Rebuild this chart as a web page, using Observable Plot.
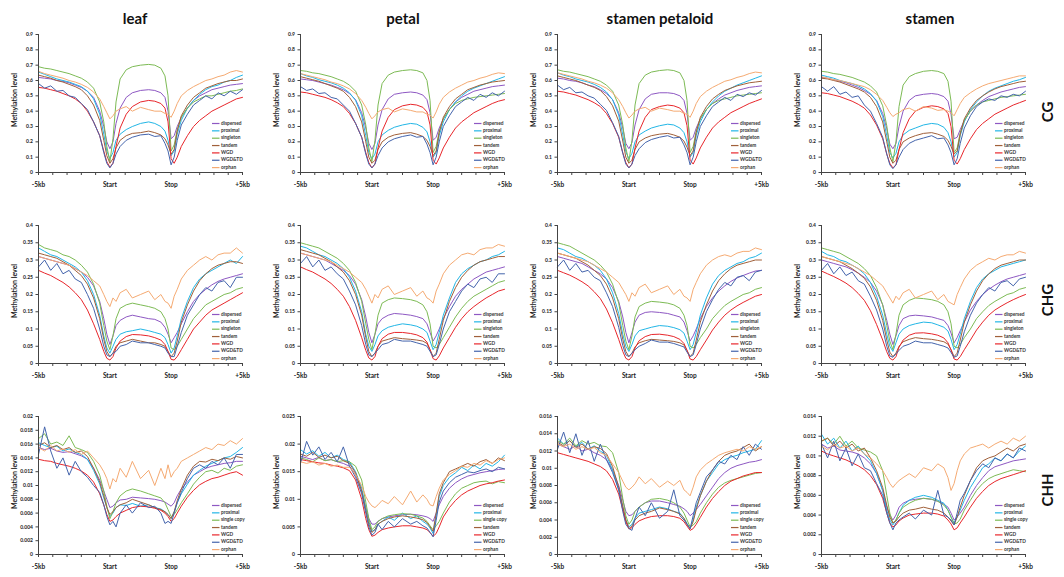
<!DOCTYPE html>
<html>
<head>
<meta charset="utf-8">
<script src="https://cdn.jsdelivr.net/npm/d3@7"></script>
<script src="https://cdn.jsdelivr.net/npm/@observablehq/plot@0.6"></script>
<style>
  html, body { margin: 0; padding: 0; background: #fff; }
  #chart { position: relative; width: 1064px; height: 577px; overflow: hidden; font-family: Lato, "Open Sans", sans-serif; }
  .ttl { position: absolute; font-weight: bold; font-size: 15px; color: #111; transform: translate(-50%, -50%); white-space: nowrap; }
  .row { position: absolute; font-weight: bold; font-size: 15px; color: #111; transform: translate(-50%, -50%) rotate(-90deg); white-space: nowrap; }
</style>
</head>
<body>
<div id="chart"></div>
<script>
// ---------- categories & labels ----------
const tissues = ["leaf", "petal", "stamen petaloid", "stamen"];
const contexts = ["CG", "CHG", "CHH"];
const seriesCG = ["dispersed", "proximal", "singleton", "tandem", "WGD", "WGD&TD", "orphan"];
const seriesCHH = ["dispersed", "proximal", "single copy", "tandem", "WGD", "WGD&TD", "orphan"];
const seriesColors = ["#8E58C3", "#22B6E6", "#7DBB55", "#A0603A", "#E8262B", "#4464AC", "#F5AA72"];
const xTickAt = [0, 35, 65, 100];
const xTickLabels = ["-5kb", "Start", "Stop", "+5kb"];
const xTickMarks = [0, 7, 14, 21, 28, 35, 42.5, 50, 57.5, 65, 72, 79, 86, 93, 100];
const yTicksCG = [0, 0.1, 0.2, 0.3, 0.4, 0.5, 0.6, 0.7, 0.8, 0.9];
const yTicksCHG = [0, 0.05, 0.1, 0.15, 0.2, 0.25, 0.3, 0.35, 0.4];
const yTicksCHH_leaf = [0, 0.002, 0.004, 0.006, 0.008, 0.01, 0.012, 0.014, 0.016, 0.018, 0.02];
const yTicksCHH_petal = [0, 0.005, 0.01, 0.015, 0.02, 0.025];
const yTicksCHH_petaloid = [0, 0.002, 0.004, 0.006, 0.008, 0.01, 0.012, 0.014, 0.016];
const yTicksCHH_stamen = [0, 0.002, 0.004, 0.006, 0.008, 0.01, 0.012, 0.014];

// relative position along -5kb .. Start .. Stop .. +5kb (0..100)
const xPos = [0,3,6,9,12,15,18,21,24,27,30,32,33.5,35,36.5,38,40,43,46,50,54,57,60,62,63.5,65,66.5,68,70,73,76,79,82,85,88,91,94,97,100];

// ---------- series values (order: dispersed, proximal, singleton, tandem, WGD, WGD&TD, orphan) ----------
const CG_leaf = [
 [0.62,0.615,0.61,0.60,0.595,0.585,0.57,0.555,0.53,0.49,0.40,0.30,0.20,0.155,0.20,0.32,0.42,0.49,0.52,0.535,0.54,0.535,0.52,0.49,0.40,0.22,0.24,0.30,0.36,0.42,0.47,0.50,0.52,0.54,0.55,0.56,0.57,0.575,0.58],
 [0.655,0.64,0.625,0.61,0.60,0.59,0.575,0.56,0.53,0.48,0.38,0.25,0.14,0.09,0.13,0.21,0.25,0.28,0.30,0.32,0.33,0.32,0.30,0.27,0.21,0.11,0.14,0.25,0.34,0.42,0.47,0.51,0.54,0.56,0.57,0.59,0.60,0.62,0.635],
 [0.69,0.68,0.675,0.665,0.655,0.645,0.63,0.615,0.59,0.55,0.46,0.33,0.17,0.07,0.22,0.46,0.61,0.67,0.69,0.70,0.705,0.70,0.68,0.63,0.50,0.14,0.18,0.28,0.36,0.42,0.46,0.48,0.50,0.50,0.51,0.52,0.53,0.535,0.545],
 [0.635,0.625,0.615,0.60,0.59,0.575,0.56,0.54,0.50,0.44,0.34,0.21,0.11,0.06,0.09,0.16,0.21,0.24,0.255,0.26,0.27,0.26,0.245,0.22,0.18,0.12,0.15,0.27,0.37,0.44,0.49,0.52,0.55,0.565,0.58,0.59,0.60,0.60,0.61],
 [0.555,0.55,0.54,0.53,0.515,0.50,0.48,0.45,0.40,0.33,0.24,0.14,0.07,0.035,0.06,0.17,0.29,0.38,0.43,0.46,0.47,0.465,0.45,0.42,0.33,0.09,0.06,0.10,0.17,0.24,0.30,0.34,0.37,0.40,0.42,0.44,0.46,0.48,0.49],
 [0.58,0.55,0.565,0.53,0.535,0.50,0.49,0.45,0.41,0.33,0.24,0.13,0.06,0.03,0.06,0.12,0.17,0.21,0.23,0.245,0.25,0.235,0.24,0.19,0.14,0.05,0.10,0.21,0.31,0.38,0.44,0.47,0.50,0.48,0.52,0.50,0.53,0.51,0.54],
 [0.66,0.645,0.635,0.625,0.615,0.60,0.59,0.575,0.555,0.525,0.48,0.43,0.39,0.35,0.37,0.40,0.415,0.43,0.40,0.425,0.41,0.40,0.40,0.385,0.38,0.36,0.40,0.45,0.50,0.535,0.56,0.58,0.60,0.61,0.625,0.635,0.655,0.665,0.655]
];
const CG_petal = [
 [0.61,0.605,0.60,0.59,0.58,0.57,0.555,0.54,0.515,0.475,0.39,0.29,0.19,0.15,0.19,0.31,0.41,0.48,0.51,0.52,0.525,0.52,0.505,0.475,0.39,0.21,0.23,0.29,0.35,0.41,0.46,0.49,0.51,0.53,0.54,0.55,0.56,0.565,0.57],
 [0.645,0.63,0.62,0.605,0.595,0.585,0.57,0.55,0.52,0.47,0.37,0.24,0.13,0.09,0.12,0.20,0.245,0.275,0.295,0.31,0.32,0.315,0.295,0.265,0.20,0.10,0.13,0.24,0.33,0.41,0.46,0.50,0.53,0.55,0.565,0.58,0.595,0.61,0.625],
 [0.665,0.66,0.65,0.645,0.635,0.625,0.61,0.595,0.57,0.53,0.44,0.31,0.16,0.07,0.21,0.44,0.58,0.635,0.655,0.665,0.67,0.665,0.65,0.60,0.47,0.13,0.17,0.27,0.35,0.41,0.45,0.47,0.48,0.49,0.495,0.50,0.505,0.51,0.515],
 [0.625,0.615,0.605,0.595,0.58,0.565,0.55,0.53,0.49,0.43,0.33,0.20,0.10,0.06,0.08,0.15,0.20,0.23,0.245,0.255,0.26,0.25,0.235,0.21,0.17,0.11,0.14,0.26,0.36,0.43,0.48,0.51,0.54,0.555,0.57,0.58,0.59,0.595,0.60],
 [0.525,0.52,0.51,0.50,0.49,0.475,0.455,0.43,0.385,0.32,0.23,0.13,0.065,0.03,0.055,0.16,0.27,0.36,0.41,0.435,0.445,0.44,0.425,0.395,0.31,0.08,0.055,0.095,0.16,0.23,0.29,0.33,0.36,0.39,0.41,0.43,0.45,0.465,0.475],
 [0.56,0.535,0.545,0.515,0.52,0.49,0.48,0.44,0.40,0.32,0.23,0.12,0.055,0.03,0.055,0.11,0.16,0.20,0.22,0.235,0.245,0.23,0.235,0.185,0.13,0.05,0.10,0.20,0.30,0.37,0.43,0.46,0.49,0.47,0.51,0.49,0.52,0.50,0.53],
 [0.645,0.635,0.625,0.615,0.605,0.59,0.58,0.565,0.545,0.515,0.47,0.425,0.385,0.35,0.37,0.395,0.41,0.42,0.395,0.415,0.405,0.395,0.395,0.38,0.375,0.355,0.395,0.445,0.49,0.525,0.55,0.57,0.59,0.60,0.615,0.625,0.64,0.65,0.645]
];
const CG_petaloid = [
 [0.615,0.61,0.60,0.595,0.585,0.57,0.56,0.54,0.515,0.475,0.39,0.29,0.19,0.155,0.195,0.31,0.41,0.48,0.51,0.52,0.52,0.515,0.50,0.47,0.385,0.21,0.23,0.29,0.35,0.41,0.45,0.48,0.505,0.52,0.535,0.545,0.555,0.56,0.565],
 [0.65,0.635,0.625,0.61,0.60,0.59,0.575,0.555,0.525,0.475,0.375,0.245,0.135,0.09,0.125,0.20,0.245,0.27,0.29,0.305,0.315,0.31,0.29,0.26,0.20,0.10,0.13,0.24,0.33,0.41,0.46,0.50,0.53,0.55,0.57,0.585,0.60,0.615,0.63],
 [0.67,0.66,0.655,0.645,0.635,0.625,0.61,0.595,0.57,0.53,0.44,0.31,0.16,0.07,0.21,0.44,0.58,0.635,0.655,0.665,0.67,0.665,0.65,0.60,0.47,0.13,0.17,0.27,0.35,0.41,0.45,0.47,0.48,0.49,0.50,0.505,0.51,0.515,0.52],
 [0.63,0.62,0.61,0.60,0.585,0.57,0.555,0.535,0.495,0.435,0.335,0.205,0.10,0.06,0.08,0.15,0.20,0.225,0.24,0.25,0.255,0.245,0.23,0.205,0.165,0.11,0.14,0.26,0.36,0.43,0.48,0.51,0.535,0.55,0.565,0.575,0.585,0.59,0.595],
 [0.53,0.525,0.515,0.505,0.49,0.475,0.455,0.43,0.385,0.32,0.23,0.13,0.065,0.03,0.055,0.16,0.27,0.36,0.41,0.43,0.44,0.435,0.42,0.39,0.305,0.08,0.055,0.095,0.16,0.23,0.29,0.33,0.36,0.39,0.41,0.43,0.45,0.465,0.48],
 [0.57,0.54,0.555,0.52,0.525,0.50,0.485,0.445,0.405,0.325,0.235,0.125,0.055,0.03,0.055,0.11,0.155,0.195,0.215,0.23,0.24,0.225,0.23,0.18,0.13,0.05,0.10,0.20,0.30,0.37,0.43,0.46,0.49,0.47,0.51,0.495,0.52,0.505,0.535],
 [0.65,0.64,0.63,0.62,0.61,0.595,0.585,0.57,0.55,0.52,0.475,0.43,0.39,0.355,0.375,0.40,0.415,0.425,0.40,0.42,0.41,0.40,0.40,0.385,0.38,0.36,0.40,0.45,0.495,0.53,0.555,0.575,0.595,0.605,0.62,0.63,0.645,0.655,0.65]
];
const CG_stamen = [
 [0.62,0.615,0.605,0.595,0.585,0.57,0.555,0.535,0.51,0.47,0.385,0.285,0.185,0.155,0.19,0.30,0.40,0.47,0.50,0.51,0.515,0.51,0.495,0.465,0.38,0.22,0.23,0.28,0.34,0.40,0.44,0.47,0.495,0.51,0.525,0.535,0.545,0.555,0.56],
 [0.635,0.625,0.615,0.60,0.59,0.58,0.565,0.545,0.515,0.465,0.365,0.24,0.13,0.095,0.125,0.20,0.245,0.275,0.29,0.31,0.32,0.315,0.295,0.26,0.20,0.10,0.13,0.24,0.33,0.41,0.46,0.50,0.53,0.55,0.565,0.58,0.595,0.605,0.62],
 [0.66,0.655,0.645,0.64,0.63,0.62,0.605,0.59,0.565,0.525,0.435,0.305,0.16,0.07,0.20,0.43,0.57,0.625,0.645,0.66,0.665,0.66,0.645,0.595,0.465,0.13,0.16,0.26,0.34,0.40,0.44,0.46,0.47,0.48,0.49,0.495,0.50,0.505,0.51],
 [0.615,0.61,0.60,0.59,0.575,0.56,0.545,0.525,0.49,0.43,0.33,0.20,0.10,0.06,0.08,0.15,0.20,0.225,0.24,0.255,0.26,0.25,0.235,0.21,0.17,0.12,0.14,0.25,0.35,0.42,0.47,0.50,0.525,0.545,0.56,0.57,0.58,0.59,0.595],
 [0.52,0.515,0.505,0.495,0.48,0.465,0.445,0.42,0.375,0.31,0.22,0.12,0.06,0.03,0.05,0.15,0.26,0.35,0.40,0.425,0.435,0.43,0.415,0.385,0.30,0.08,0.055,0.09,0.15,0.22,0.28,0.32,0.35,0.38,0.40,0.42,0.44,0.455,0.47],
 [0.56,0.53,0.56,0.51,0.525,0.49,0.50,0.44,0.40,0.32,0.23,0.12,0.05,0.025,0.05,0.10,0.15,0.19,0.21,0.225,0.24,0.22,0.225,0.18,0.13,0.05,0.09,0.19,0.29,0.37,0.43,0.46,0.48,0.47,0.50,0.49,0.51,0.50,0.53],
 [0.625,0.615,0.605,0.60,0.59,0.58,0.57,0.56,0.54,0.51,0.47,0.425,0.39,0.365,0.38,0.39,0.41,0.42,0.40,0.43,0.42,0.405,0.41,0.40,0.39,0.37,0.41,0.45,0.49,0.52,0.545,0.565,0.58,0.59,0.60,0.61,0.62,0.63,0.63]
];
const CHG_leaf = [
 [0.31,0.305,0.30,0.295,0.29,0.285,0.275,0.265,0.25,0.225,0.18,0.13,0.085,0.055,0.08,0.11,0.125,0.135,0.14,0.135,0.13,0.128,0.12,0.105,0.085,0.06,0.075,0.09,0.115,0.15,0.18,0.20,0.215,0.228,0.238,0.245,0.25,0.255,0.26],
 [0.335,0.325,0.315,0.31,0.30,0.29,0.28,0.265,0.24,0.20,0.14,0.08,0.045,0.03,0.05,0.07,0.085,0.092,0.095,0.10,0.095,0.09,0.085,0.075,0.055,0.03,0.045,0.08,0.13,0.18,0.22,0.245,0.26,0.27,0.28,0.29,0.30,0.29,0.31],
 [0.345,0.335,0.33,0.325,0.315,0.31,0.30,0.285,0.265,0.23,0.175,0.11,0.065,0.04,0.08,0.13,0.16,0.17,0.175,0.17,0.165,0.16,0.15,0.13,0.10,0.045,0.04,0.05,0.07,0.10,0.13,0.15,0.17,0.18,0.19,0.20,0.205,0.215,0.22],
 [0.32,0.315,0.31,0.305,0.295,0.285,0.27,0.255,0.23,0.19,0.13,0.07,0.035,0.02,0.03,0.05,0.06,0.065,0.07,0.065,0.06,0.06,0.055,0.05,0.035,0.02,0.03,0.065,0.12,0.17,0.21,0.24,0.26,0.275,0.285,0.29,0.295,0.295,0.29],
 [0.27,0.262,0.255,0.245,0.235,0.222,0.205,0.185,0.155,0.115,0.07,0.035,0.015,0.01,0.02,0.045,0.065,0.078,0.084,0.083,0.08,0.075,0.068,0.055,0.035,0.012,0.01,0.02,0.04,0.07,0.10,0.12,0.14,0.155,0.165,0.175,0.185,0.195,0.205],
 [0.28,0.30,0.27,0.29,0.26,0.27,0.245,0.235,0.20,0.16,0.10,0.05,0.025,0.02,0.03,0.035,0.05,0.055,0.065,0.06,0.06,0.055,0.05,0.045,0.03,0.02,0.02,0.05,0.09,0.14,0.17,0.20,0.22,0.21,0.235,0.24,0.22,0.25,0.25],
 [0.31,0.305,0.30,0.295,0.29,0.285,0.275,0.265,0.255,0.24,0.225,0.20,0.18,0.165,0.19,0.18,0.205,0.215,0.19,0.20,0.21,0.185,0.20,0.18,0.175,0.16,0.195,0.215,0.245,0.27,0.285,0.30,0.31,0.30,0.315,0.32,0.32,0.335,0.32]
];
const CHG_petal = [
 [0.32,0.315,0.31,0.305,0.30,0.29,0.28,0.27,0.255,0.23,0.185,0.135,0.09,0.06,0.085,0.115,0.13,0.14,0.145,0.143,0.14,0.136,0.13,0.115,0.09,0.065,0.08,0.10,0.13,0.165,0.195,0.215,0.23,0.245,0.255,0.265,0.27,0.275,0.28],
 [0.34,0.335,0.325,0.315,0.31,0.30,0.29,0.275,0.25,0.21,0.15,0.085,0.05,0.035,0.055,0.08,0.095,0.105,0.11,0.115,0.112,0.108,0.10,0.09,0.065,0.04,0.055,0.09,0.14,0.19,0.235,0.26,0.275,0.285,0.295,0.30,0.31,0.315,0.325],
 [0.35,0.345,0.34,0.335,0.325,0.315,0.305,0.29,0.27,0.235,0.18,0.115,0.07,0.04,0.085,0.14,0.175,0.185,0.19,0.188,0.185,0.18,0.17,0.15,0.115,0.05,0.045,0.055,0.075,0.105,0.135,0.16,0.18,0.195,0.205,0.215,0.225,0.235,0.24],
 [0.33,0.325,0.32,0.315,0.305,0.295,0.28,0.265,0.24,0.20,0.14,0.075,0.035,0.02,0.03,0.05,0.065,0.07,0.075,0.072,0.07,0.068,0.065,0.058,0.04,0.02,0.03,0.07,0.125,0.18,0.22,0.25,0.27,0.285,0.295,0.30,0.305,0.31,0.31],
 [0.28,0.272,0.265,0.255,0.245,0.232,0.215,0.195,0.165,0.125,0.075,0.038,0.016,0.01,0.02,0.05,0.072,0.085,0.09,0.09,0.087,0.083,0.075,0.062,0.04,0.014,0.01,0.022,0.045,0.075,0.105,0.13,0.15,0.165,0.178,0.19,0.20,0.21,0.215],
 [0.29,0.31,0.28,0.30,0.27,0.28,0.26,0.245,0.21,0.17,0.11,0.055,0.025,0.02,0.03,0.04,0.055,0.06,0.07,0.065,0.065,0.06,0.055,0.05,0.035,0.02,0.025,0.055,0.10,0.15,0.18,0.21,0.23,0.22,0.245,0.25,0.235,0.26,0.26],
 [0.32,0.315,0.31,0.305,0.30,0.295,0.285,0.275,0.265,0.25,0.235,0.215,0.195,0.175,0.20,0.19,0.215,0.225,0.20,0.21,0.22,0.195,0.21,0.19,0.185,0.175,0.21,0.23,0.26,0.285,0.30,0.315,0.32,0.315,0.33,0.335,0.335,0.345,0.34]
];
const CHG_petaloid = [
 [0.31,0.305,0.30,0.295,0.29,0.28,0.27,0.26,0.245,0.22,0.18,0.135,0.09,0.06,0.09,0.12,0.14,0.148,0.15,0.148,0.145,0.14,0.135,0.12,0.095,0.065,0.08,0.10,0.13,0.165,0.19,0.21,0.225,0.238,0.248,0.255,0.262,0.268,0.27],
 [0.335,0.33,0.32,0.31,0.305,0.295,0.285,0.27,0.245,0.205,0.145,0.085,0.05,0.035,0.055,0.08,0.095,0.10,0.105,0.11,0.108,0.104,0.098,0.088,0.065,0.04,0.055,0.09,0.14,0.19,0.23,0.255,0.27,0.28,0.29,0.295,0.305,0.31,0.32],
 [0.35,0.345,0.34,0.33,0.32,0.31,0.30,0.285,0.265,0.23,0.175,0.11,0.065,0.04,0.08,0.135,0.165,0.175,0.18,0.178,0.175,0.17,0.16,0.14,0.11,0.05,0.045,0.055,0.075,0.10,0.13,0.15,0.168,0.18,0.19,0.20,0.205,0.215,0.22],
 [0.32,0.315,0.31,0.305,0.295,0.285,0.27,0.255,0.23,0.19,0.13,0.07,0.035,0.02,0.03,0.048,0.06,0.066,0.07,0.068,0.066,0.064,0.06,0.054,0.038,0.02,0.03,0.068,0.12,0.17,0.21,0.24,0.26,0.275,0.285,0.29,0.295,0.30,0.30],
 [0.27,0.263,0.256,0.247,0.237,0.225,0.208,0.188,0.158,0.118,0.07,0.035,0.015,0.01,0.02,0.045,0.066,0.078,0.084,0.085,0.082,0.078,0.07,0.058,0.038,0.013,0.01,0.02,0.04,0.068,0.097,0.12,0.14,0.155,0.167,0.177,0.186,0.195,0.20],
 [0.28,0.30,0.27,0.29,0.265,0.27,0.25,0.24,0.205,0.165,0.105,0.052,0.025,0.02,0.03,0.04,0.05,0.058,0.068,0.062,0.062,0.058,0.052,0.048,0.033,0.02,0.025,0.055,0.10,0.15,0.185,0.215,0.235,0.225,0.25,0.255,0.24,0.265,0.27],
 [0.32,0.315,0.31,0.305,0.30,0.295,0.285,0.275,0.265,0.25,0.235,0.215,0.20,0.18,0.205,0.195,0.22,0.23,0.205,0.215,0.225,0.20,0.215,0.195,0.19,0.18,0.215,0.235,0.26,0.285,0.30,0.31,0.315,0.31,0.32,0.325,0.325,0.335,0.33]
];
const CHG_stamen = [
 [0.30,0.295,0.29,0.285,0.28,0.272,0.262,0.25,0.235,0.21,0.17,0.125,0.085,0.055,0.08,0.11,0.13,0.138,0.14,0.138,0.135,0.13,0.125,0.11,0.088,0.06,0.075,0.095,0.12,0.155,0.18,0.20,0.215,0.227,0.237,0.245,0.25,0.255,0.26],
 [0.325,0.315,0.31,0.30,0.295,0.285,0.275,0.26,0.235,0.195,0.14,0.085,0.05,0.035,0.06,0.085,0.10,0.11,0.115,0.12,0.118,0.112,0.105,0.094,0.07,0.04,0.055,0.085,0.13,0.18,0.22,0.245,0.26,0.27,0.28,0.285,0.29,0.295,0.30],
 [0.335,0.33,0.325,0.32,0.31,0.30,0.29,0.275,0.255,0.22,0.17,0.11,0.065,0.04,0.085,0.14,0.17,0.183,0.19,0.188,0.185,0.18,0.17,0.15,0.115,0.05,0.045,0.055,0.075,0.10,0.13,0.15,0.168,0.18,0.19,0.20,0.205,0.215,0.22],
 [0.31,0.305,0.30,0.295,0.285,0.275,0.262,0.247,0.222,0.183,0.125,0.068,0.033,0.02,0.03,0.05,0.063,0.07,0.075,0.072,0.07,0.067,0.063,0.056,0.04,0.02,0.03,0.068,0.12,0.17,0.21,0.24,0.26,0.275,0.285,0.29,0.295,0.30,0.30],
 [0.268,0.26,0.252,0.243,0.233,0.22,0.203,0.183,0.153,0.113,0.068,0.034,0.015,0.01,0.02,0.047,0.068,0.082,0.088,0.089,0.086,0.082,0.074,0.06,0.039,0.013,0.01,0.02,0.04,0.068,0.097,0.12,0.14,0.155,0.166,0.176,0.185,0.193,0.20],
 [0.27,0.29,0.26,0.28,0.255,0.265,0.24,0.23,0.195,0.155,0.10,0.05,0.022,0.018,0.028,0.038,0.05,0.056,0.065,0.06,0.06,0.055,0.05,0.045,0.032,0.018,0.022,0.05,0.092,0.14,0.175,0.20,0.22,0.21,0.235,0.24,0.225,0.245,0.25],
 [0.31,0.305,0.30,0.295,0.29,0.285,0.275,0.265,0.255,0.24,0.225,0.205,0.19,0.175,0.195,0.185,0.205,0.215,0.19,0.20,0.21,0.185,0.20,0.18,0.175,0.17,0.20,0.22,0.245,0.27,0.285,0.295,0.305,0.30,0.31,0.315,0.315,0.325,0.32]
];
const CHH_leaf = [
 [0.0155,0.0152,0.0154,0.015,0.0148,0.0149,0.0146,0.0143,0.0138,0.0125,0.0108,0.0092,0.008,0.0068,0.007,0.0075,0.0079,0.008,0.0083,0.0082,0.0081,0.008,0.0078,0.0076,0.0073,0.007,0.0075,0.0085,0.0095,0.0105,0.0115,0.012,0.0125,0.0128,0.013,0.0132,0.0133,0.0135,0.0135],
 [0.0162,0.0158,0.0155,0.0157,0.015,0.0153,0.0148,0.0145,0.0138,0.0122,0.0102,0.0082,0.0068,0.0055,0.006,0.0068,0.0072,0.0071,0.0074,0.007,0.0072,0.0068,0.0066,0.0062,0.0058,0.0052,0.0062,0.0075,0.0088,0.0102,0.0115,0.0122,0.0128,0.0132,0.0136,0.014,0.0142,0.0148,0.0155],
 [0.0168,0.0175,0.016,0.0163,0.0158,0.0172,0.0155,0.0152,0.0148,0.0135,0.0115,0.0092,0.007,0.0052,0.0062,0.0075,0.0085,0.0092,0.0095,0.0092,0.0088,0.0085,0.0082,0.0075,0.0065,0.0055,0.0058,0.0065,0.0075,0.0088,0.0102,0.0112,0.012,0.0122,0.0118,0.0125,0.0122,0.0128,0.013],
 [0.0158,0.0162,0.0155,0.0158,0.0152,0.0155,0.0148,0.015,0.0142,0.0125,0.0105,0.0085,0.0068,0.0058,0.0062,0.0068,0.0072,0.0075,0.008,0.0076,0.0072,0.0068,0.0065,0.0062,0.0058,0.0052,0.0062,0.0078,0.0095,0.0115,0.0128,0.0135,0.0134,0.0138,0.0136,0.014,0.0138,0.0142,0.014],
 [0.0138,0.0136,0.0135,0.0132,0.013,0.0128,0.0125,0.0121,0.0115,0.0105,0.0088,0.0072,0.0058,0.0048,0.005,0.0055,0.006,0.0064,0.0068,0.007,0.0069,0.0067,0.0064,0.006,0.0055,0.0048,0.0052,0.006,0.007,0.0083,0.0093,0.0101,0.0106,0.011,0.0112,0.0115,0.0118,0.012,0.0115],
 [0.0145,0.0185,0.015,0.0125,0.014,0.0115,0.0135,0.012,0.0112,0.01,0.009,0.0072,0.0055,0.0043,0.0048,0.004,0.006,0.0072,0.006,0.0075,0.0068,0.007,0.006,0.0045,0.0048,0.0045,0.006,0.0075,0.009,0.011,0.0125,0.013,0.0125,0.0135,0.013,0.014,0.0125,0.0145,0.0145],
 [0.0155,0.015,0.0158,0.015,0.0153,0.0148,0.0152,0.0145,0.015,0.014,0.013,0.012,0.011,0.0095,0.011,0.0105,0.0125,0.0112,0.0135,0.011,0.0122,0.01,0.0125,0.011,0.013,0.0112,0.012,0.0125,0.0135,0.014,0.0145,0.015,0.0155,0.0152,0.016,0.0158,0.0165,0.016,0.0168]
];
const CHH_petal = [
 [0.0178,0.0175,0.0172,0.0176,0.017,0.0172,0.0168,0.0165,0.016,0.0145,0.0115,0.0085,0.0065,0.0055,0.0055,0.006,0.0065,0.0068,0.007,0.0072,0.0073,0.0072,0.007,0.0068,0.0065,0.006,0.0075,0.009,0.0105,0.012,0.013,0.0137,0.0142,0.0145,0.0148,0.015,0.0152,0.0154,0.0155],
 [0.019,0.0182,0.0188,0.0178,0.0185,0.0175,0.018,0.0172,0.0168,0.015,0.012,0.0085,0.006,0.0042,0.0045,0.0055,0.006,0.0068,0.0062,0.0075,0.0065,0.007,0.006,0.0055,0.0048,0.0038,0.007,0.0105,0.0125,0.014,0.0148,0.0158,0.0152,0.0162,0.0155,0.0165,0.016,0.0168,0.018],
 [0.0175,0.0172,0.0168,0.0175,0.017,0.0172,0.0168,0.017,0.0168,0.016,0.0135,0.0095,0.0065,0.0045,0.005,0.006,0.0065,0.007,0.0072,0.0074,0.0073,0.007,0.0066,0.006,0.0052,0.0045,0.0052,0.006,0.0075,0.0095,0.011,0.012,0.0125,0.013,0.0132,0.0133,0.0128,0.0132,0.013],
 [0.0182,0.0178,0.0185,0.0176,0.018,0.0175,0.0178,0.017,0.0165,0.0148,0.0115,0.008,0.0055,0.004,0.0045,0.0055,0.006,0.0065,0.0068,0.007,0.0068,0.0066,0.0063,0.0058,0.005,0.0042,0.0075,0.011,0.013,0.015,0.0155,0.016,0.0165,0.016,0.0168,0.0172,0.0165,0.0175,0.017],
 [0.0172,0.017,0.0168,0.0166,0.0165,0.0162,0.016,0.0157,0.0152,0.0135,0.01,0.0065,0.0045,0.0033,0.0035,0.004,0.0045,0.0048,0.005,0.0052,0.0052,0.005,0.0048,0.0045,0.004,0.0033,0.0038,0.005,0.0068,0.0085,0.0098,0.0108,0.0115,0.012,0.0125,0.0128,0.013,0.0133,0.0135],
 [0.0165,0.0205,0.018,0.0195,0.0172,0.0185,0.0168,0.0195,0.016,0.014,0.011,0.0075,0.005,0.0035,0.004,0.0055,0.0045,0.006,0.005,0.0065,0.0055,0.006,0.0052,0.0048,0.004,0.0032,0.0062,0.0095,0.0115,0.013,0.014,0.0145,0.015,0.0148,0.0152,0.0155,0.015,0.0158,0.0155],
 [0.0168,0.0165,0.0168,0.0162,0.0165,0.016,0.0162,0.0158,0.0158,0.0145,0.0125,0.0105,0.0095,0.0088,0.0085,0.009,0.0098,0.0092,0.0105,0.009,0.0115,0.0095,0.0108,0.01,0.009,0.0088,0.0105,0.012,0.0135,0.0145,0.0152,0.016,0.0158,0.0165,0.0162,0.017,0.0165,0.0172,0.0175]
];
const CHH_petaloid = [
 [0.0128,0.0125,0.0122,0.0126,0.012,0.0122,0.0118,0.0115,0.011,0.0098,0.008,0.0063,0.005,0.0045,0.0046,0.005,0.0055,0.006,0.0062,0.0062,0.006,0.0058,0.0056,0.0053,0.005,0.0045,0.0048,0.0052,0.0058,0.0068,0.0078,0.0088,0.0095,0.01,0.0103,0.0105,0.0107,0.0108,0.011],
 [0.0135,0.0128,0.0132,0.0125,0.013,0.0122,0.0126,0.012,0.0115,0.0098,0.0075,0.0055,0.004,0.0032,0.0035,0.0042,0.0048,0.005,0.0052,0.0055,0.0053,0.005,0.0048,0.0042,0.0036,0.003,0.004,0.0055,0.0068,0.0085,0.0095,0.0105,0.011,0.0113,0.0115,0.0118,0.012,0.0122,0.0132],
 [0.0132,0.0128,0.0135,0.0126,0.0132,0.0128,0.013,0.0126,0.0125,0.0118,0.0095,0.0065,0.0045,0.0035,0.004,0.005,0.0055,0.006,0.0064,0.0065,0.0063,0.006,0.0055,0.0048,0.004,0.0032,0.0034,0.0038,0.0048,0.006,0.007,0.0078,0.0083,0.0086,0.0088,0.009,0.0092,0.0094,0.0095],
 [0.013,0.0126,0.0132,0.0124,0.0128,0.0122,0.0125,0.0123,0.0117,0.0102,0.0078,0.0056,0.004,0.003,0.0033,0.004,0.0045,0.0048,0.005,0.0054,0.0052,0.005,0.0047,0.0042,0.0035,0.003,0.0038,0.0052,0.0068,0.0085,0.0098,0.0108,0.0115,0.0118,0.012,0.0124,0.0128,0.012,0.0125],
 [0.0118,0.0116,0.0114,0.0112,0.011,0.0108,0.0105,0.0102,0.0097,0.0087,0.007,0.0052,0.0038,0.003,0.0031,0.0035,0.0039,0.0042,0.0044,0.0045,0.0045,0.0044,0.0042,0.0038,0.0033,0.0028,0.003,0.0035,0.0043,0.0055,0.0065,0.0073,0.008,0.0085,0.0088,0.0091,0.0093,0.0095,0.0095],
 [0.0122,0.0142,0.0118,0.014,0.0115,0.0132,0.0108,0.0128,0.011,0.0095,0.0075,0.005,0.0035,0.003,0.0028,0.0042,0.0055,0.0045,0.006,0.0042,0.005,0.0075,0.0045,0.004,0.0035,0.003,0.0045,0.006,0.0072,0.009,0.0098,0.0108,0.0105,0.0115,0.011,0.0125,0.0115,0.0128,0.0122],
 [0.0128,0.0125,0.0128,0.0122,0.0125,0.0122,0.0124,0.0118,0.0115,0.0105,0.0095,0.0085,0.0078,0.0075,0.0078,0.0082,0.009,0.0082,0.0088,0.0078,0.0085,0.008,0.0086,0.0075,0.0072,0.0068,0.0078,0.009,0.0098,0.0105,0.011,0.0115,0.0118,0.012,0.0122,0.012,0.0125,0.0122,0.0125]
];
const CHH_stamen = [
 [0.0112,0.0108,0.011,0.0106,0.0105,0.0104,0.0102,0.0098,0.0092,0.0082,0.0065,0.0048,0.004,0.0035,0.004,0.0048,0.0052,0.0055,0.0056,0.0057,0.0056,0.0054,0.0051,0.0048,0.0042,0.0035,0.0038,0.0042,0.0048,0.006,0.007,0.0078,0.0085,0.0089,0.0091,0.0093,0.0095,0.0096,0.0097],
 [0.0122,0.0112,0.0118,0.0108,0.0115,0.0105,0.011,0.0102,0.0095,0.0082,0.0065,0.0045,0.0035,0.003,0.0035,0.0042,0.005,0.0055,0.0058,0.006,0.0058,0.0055,0.0052,0.0045,0.0038,0.0032,0.0038,0.0045,0.0055,0.0068,0.0078,0.0088,0.0092,0.0098,0.0095,0.0102,0.0098,0.0105,0.011],
 [0.0115,0.0118,0.0112,0.012,0.011,0.0115,0.0108,0.0106,0.0104,0.01,0.0085,0.006,0.0042,0.0032,0.0035,0.0042,0.0048,0.0052,0.0055,0.0057,0.0056,0.0054,0.005,0.0045,0.0038,0.0031,0.0032,0.0036,0.0045,0.0055,0.0065,0.0072,0.0077,0.008,0.0082,0.0084,0.0086,0.0085,0.0084],
 [0.0115,0.0118,0.011,0.0115,0.0108,0.0112,0.0105,0.0108,0.0098,0.0085,0.0068,0.005,0.0038,0.0032,0.0034,0.0038,0.0042,0.0045,0.0046,0.0048,0.0046,0.0045,0.0042,0.0038,0.0034,0.003,0.0038,0.0048,0.006,0.0075,0.0088,0.0095,0.0098,0.01,0.0104,0.0108,0.0105,0.011,0.0112],
 [0.0105,0.0102,0.01,0.0098,0.0096,0.0093,0.009,0.0086,0.008,0.0071,0.0057,0.0042,0.0032,0.0028,0.003,0.0034,0.0037,0.004,0.0041,0.0042,0.0042,0.0041,0.0039,0.0035,0.0031,0.0025,0.0027,0.0032,0.0038,0.0048,0.0057,0.0064,0.007,0.0074,0.0077,0.0079,0.0081,0.0083,0.0085],
 [0.0112,0.0098,0.0115,0.0095,0.0108,0.009,0.0102,0.0088,0.0085,0.0072,0.006,0.0042,0.0032,0.0025,0.0032,0.0035,0.0038,0.0042,0.0036,0.0045,0.004,0.0065,0.004,0.0038,0.0035,0.003,0.0042,0.0055,0.0062,0.0075,0.0085,0.0092,0.0088,0.0098,0.0095,0.0102,0.0098,0.0108,0.0105],
 [0.011,0.0106,0.0112,0.0108,0.011,0.0105,0.0108,0.0102,0.0098,0.0092,0.0085,0.0078,0.0072,0.0068,0.0072,0.0075,0.0078,0.0082,0.0078,0.0088,0.0085,0.0092,0.0088,0.0078,0.0065,0.0072,0.0085,0.0095,0.0102,0.0108,0.011,0.0112,0.0108,0.0112,0.0115,0.0112,0.0118,0.0115,0.012]
];

// ---------- layout ----------
const colAxisX = [38, 300, 557, 821];
const rowTop = [34, 225, 416];
const plotW = 204, plotH = 138;
const ML = 45, MR = 22, MT = 10, MB = 25;
const titlePos = [[135, 18], [403, 18], [660, 18], [930, 18]];
const rowLabelPos = [[1047, 112], [1047, 300], [1047, 490]];

const grid = [
  [CG_leaf, CG_petal, CG_petaloid, CG_stamen],
  [CHG_leaf, CHG_petal, CHG_petaloid, CHG_stamen],
  [CHH_leaf, CHH_petal, CHH_petaloid, CHH_stamen]
];
const yTickGrid = [
  [yTicksCG, yTicksCG, yTicksCG, yTicksCG],
  [yTicksCHG, yTicksCHG, yTicksCHG, yTicksCHG],
  [yTicksCHH_leaf, yTicksCHH_petal, yTicksCHH_petaloid, yTicksCHH_stamen]
];

const chart = document.getElementById("chart");
const xLabelMap = new Map(xTickAt.map((v, i) => [v, xTickLabels[i]]));
const fmt = d => d === 0 ? "0" : String(+d.toFixed(4));
const axisColor = "#444";

grid.forEach((rowPanels, r) => {
  rowPanels.forEach((series, c) => {
    const yt = yTickGrid[r][c];
    const yMax = yt[yt.length - 1];
    const names = r === 2 ? seriesCHH : seriesCG;
    const lines = series.map((vals, i) =>
      Plot.line(xPos.map((x, j) => ({x, y: vals[j]})), {x: "x", y: "y", stroke: seriesColors[i], strokeWidth: 1})
    );
    const svg = Plot.plot({
      width: ML + plotW + MR,
      height: MT + plotH + MB,
      marginLeft: ML, marginRight: MR, marginTop: MT, marginBottom: MB,
      style: {background: "transparent", fontFamily: "Lato, 'Open Sans', sans-serif", fontWeight: "bold", fontSize: "5px", color: "#222", overflow: "visible"},
      x: {domain: [0, 100]},
      y: {domain: [0, yMax]},
      marks: [
        Plot.axisY(yt, {tickSize: 2.5, tickPadding: 3, tickFormat: fmt, label: null, fontSize: 5, stroke: axisColor}),
        Plot.axisX(xTickMarks, {tickSize: 3, tickFormat: () => "", label: null, stroke: axisColor}),
        Plot.axisX(xTickAt, {tickSize: 0, tickPadding: 10, tickFormat: d => xLabelMap.get(d), label: null, fontSize: 6.5}),
        ...lines,
        Plot.ruleX([0], {stroke: axisColor}),
        Plot.ruleY([0], {stroke: axisColor})
      ]
    });
    svg.style.position = "absolute";
    svg.style.left = (colAxisX[c] - ML) + "px";
    svg.style.top = (rowTop[r] - MT) + "px";
    const s = d3.select(svg);
    // y-axis title
    s.append("text")
      .attr("transform", `translate(${ML - 23},${MT + plotH / 2 - 3}) rotate(-90)`)
      .attr("text-anchor", "middle").attr("dominant-baseline", "middle")
      .attr("font-size", 7).attr("font-weight", "bold").attr("fill", "#222")
      .text("Methylation level");
    // legend
    const lg = s.append("g").attr("transform", `translate(${ML + 174},${MT + 89.5})`).attr("text-anchor", "start");
    names.forEach((n, i) => {
      const y = i * 7.35;
      lg.append("line").attr("x1", 0).attr("x2", 7.5).attr("y1", y).attr("y2", y)
        .attr("stroke", seriesColors[i]).attr("stroke-width", 1.2);
      lg.append("text").attr("x", 9).attr("y", y).attr("dominant-baseline", "middle")
        .attr("text-anchor", "start")
        .attr("font-size", 4.8).attr("font-weight", "bold").attr("fill", "#333").text(n);
    });
    chart.appendChild(svg);
  });
});

tissues.forEach((t, i) => {
  const d = document.createElement("div");
  d.className = "ttl"; d.textContent = t;
  d.style.left = titlePos[i][0] + "px"; d.style.top = titlePos[i][1] + "px";
  chart.appendChild(d);
});
contexts.forEach((t, i) => {
  const d = document.createElement("div");
  d.className = "row"; d.textContent = t;
  d.style.left = rowLabelPos[i][0] + "px"; d.style.top = rowLabelPos[i][1] + "px";
  chart.appendChild(d);
});
</script>
</body>
</html>
